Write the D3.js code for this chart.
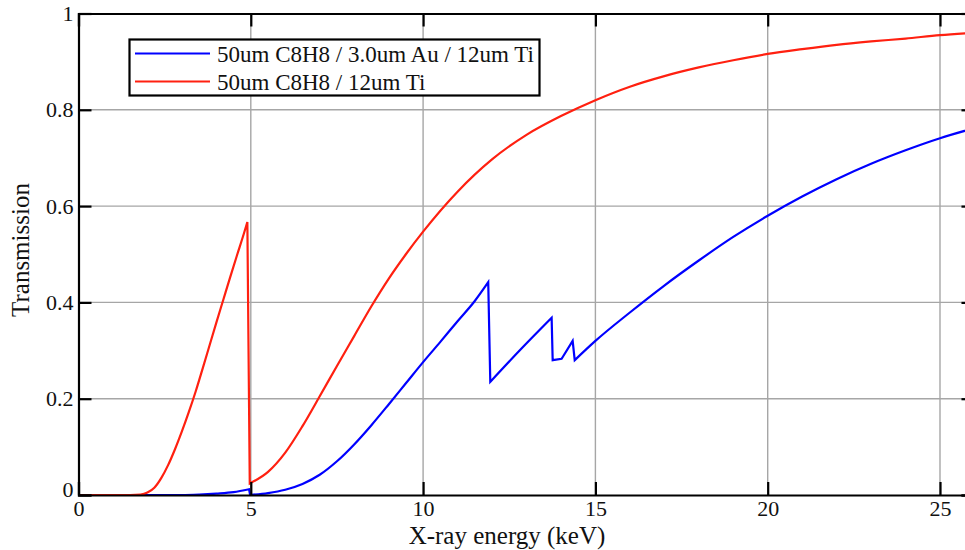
<!DOCTYPE html>
<html>
<head>
<meta charset="utf-8">
<script src="https://cdn.jsdelivr.net/npm/d3@7/dist/d3.min.js"></script>
<style>
html,body{margin:0;padding:0;background:#fff;}
svg{display:block;}
text{font-family:"Liberation Serif","Times New Roman",serif;fill:#111;}
</style>
</head>
<body>
<svg id="chart" width="965" height="550"></svg>
<script>
// ---- data ----
const xTicks = [0, 5, 10, 15, 20, 25];
const yTicks = [0, 0.2, 0.4, 0.6, 0.8, 1];
const yTickLabels = ["0", "0.2", "0.4", "0.6", "0.8", "1"];
const seriesNames = ["50um C8H8 / 3.0um Au / 12um Ti", "50um C8H8 / 12um Ti"];
const seriesColors = ["#0000ff", "#ff2010"];

// blue: 50um C8H8 / 3.0um Au / 12um Ti
const blueE = [0, 1, 2, 3, 3.5, 4.0, 4.5, 4.95,
  4.98, 5.5, 6.0, 6.5, 7.0, 7.5, 8.0, 8.5, 9.0, 9.5, 10.0, 10.5, 11.0, 11.5, 11.89,
  11.95, 12.8, 13.73,
  13.76, 14.02,
  14.03, 14.34,
  14.40, 15.0, 16.0, 17.0, 18.0, 19.0, 20.0, 21.0, 22.0, 23.0, 24.0, 25.0, 26.0];
const blueT = [0, 0, 0, 0, 0.001, 0.003, 0.006, 0.012,
  0.0, 0.004, 0.011, 0.023, 0.042, 0.070, 0.105, 0.145, 0.188, 0.232, 0.276, 0.318, 0.361, 0.403, 0.442,
  0.235, 0.300, 0.368,
  0.280, 0.283,
  0.284, 0.320,
  0.280, 0.320, 0.379, 0.435, 0.487, 0.536, 0.580, 0.620, 0.656, 0.688, 0.716, 0.741, 0.762];
const blueEdges = [4.966, 11.92, 13.745, 14.025, 14.37];

// red: 50um C8H8 / 12um Ti
const redE = [0, 1, 1.5, 1.8, 2.0, 2.2, 2.4, 2.6, 2.8, 3.0, 3.2, 3.4, 3.6, 3.8, 4.0, 4.2, 4.4, 4.6, 4.8, 4.9,
  4.97, 5.5, 6.0, 6.5, 7.0, 7.5, 8.0, 8.5, 9.0, 9.5, 10.0, 11.0, 12.0, 13.0, 14.0, 15.0, 16.0, 17.0, 18.0, 19.0, 20.0, 21.0, 22.0, 23.0, 24.0, 25.0, 26.0];
const redT = [0, 0, 0, 0.001, 0.005, 0.015, 0.035, 0.062, 0.095, 0.132, 0.172, 0.215, 0.262, 0.310, 0.358, 0.405, 0.452, 0.498, 0.543, 0.567,
  0.024, 0.048, 0.088, 0.143, 0.205, 0.268, 0.330, 0.392, 0.449, 0.500, 0.547, 0.630, 0.697, 0.748, 0.787, 0.820, 0.848, 0.870, 0.888, 0.903, 0.916, 0.926, 0.935, 0.942, 0.948, 0.955, 0.960];
const redEdges = [4.93];

// ---- layout ----
const svg = d3.select("#chart");
const m = {left: 78.5, top: 13.5, bottom: 495};
const xMax = 26;
const x = d3.scaleLinear().domain([0, xMax]).range([m.left, m.left + xMax * 34.46]);
const y = d3.scaleLinear().domain([0, 1]).range([m.bottom, m.top]);
const xR = x(xMax);

// grid
const grid = svg.append("g");
grid.selectAll("line.gx").data(xTicks.filter(d => d > 0)).join("line")
  .attr("x1", d => x(d)).attr("x2", d => x(d)).attr("y1", y(0)).attr("y2", y(1))
  .attr("stroke", "#a6a6a6").attr("stroke-width", 1.4);
grid.selectAll("line.gy").data(yTicks.filter(d => d > 0 && d < 1)).join("line")
  .attr("x1", m.left).attr("x2", xR).attr("y1", d => y(d)).attr("y2", d => y(d))
  .attr("stroke", "#a6a6a6").attr("stroke-width", 1.4);

// curves
function segments(E, T, edges) {
  const pts = E.map((e, i) => [e, T[i]]);
  const segs = [];
  const bounds = [-Infinity, ...edges, Infinity];
  for (let k = 0; k < bounds.length - 1; k++) {
    const s = pts.filter(p => p[0] >= bounds[k] && p[0] < bounds[k + 1]);
    if (s.length) segs.push(s);
  }
  return segs;
}
const line = d3.line().x(d => x(d[0])).y(d => y(d[1])).curve(d3.curveMonotoneX);
function pathFor(E, T, edges) {
  return segments(E, T, edges).map((s, i) => {
    const p = line(s);
    return i > 0 ? "L" + p.slice(1) : p;
  }).join("");
}
svg.append("defs").append("clipPath").attr("id", "clip")
  .append("rect").attr("x", m.left).attr("y", m.top).attr("width", xR - m.left).attr("height", m.bottom - m.top);
const curves = svg.append("g").attr("clip-path", "url(#clip)");
curves.append("path").attr("d", pathFor(blueE, blueT, blueEdges))
  .attr("fill", "none").attr("stroke", seriesColors[0]).attr("stroke-width", 2.2).attr("stroke-linejoin", "miter");
curves.append("path").attr("d", pathFor(redE, redT, redEdges))
  .attr("fill", "none").attr("stroke", seriesColors[1]).attr("stroke-width", 2.2).attr("stroke-linejoin", "miter");

// axes
const xAxisB = d3.axisBottom(x).tickValues(xTicks).tickSize(-13).tickPadding(5).tickFormat(d3.format("d"));
const gxB = svg.append("g").attr("transform", `translate(0,${m.bottom})`).call(xAxisB);
const xAxisT = d3.axisTop(x).tickValues(xTicks).tickSize(-13).tickFormat("");
const gxT = svg.append("g").attr("transform", `translate(0,${m.top})`).call(xAxisT);
const yAxisL = d3.axisLeft(y).tickValues(yTicks).tickSize(-13).tickPadding(5).tickFormat((d, i) => yTickLabels[i]);
const gyL = svg.append("g").attr("transform", `translate(${m.left},0)`).call(yAxisL);
const yAxisR = d3.axisRight(y).tickValues(yTicks).tickSize(-13).tickFormat("");
const gyR = svg.append("g").attr("transform", `translate(${xR},0)`).call(yAxisR);

[gxB, gxT, gyL, gyR].forEach(g => {
  g.attr("font-family", null);
  g.select(".domain").attr("stroke", "#000").attr("stroke-width", 2.2);
  g.selectAll(".tick line").attr("stroke", "#000").attr("stroke-width", 2.2);
  g.selectAll(".tick text").attr("font-size", 22).attr("fill", "#111");
});
gxB.selectAll(".tick text").attr("dy", "0.71em");
gyL.selectAll(".tick text").attr("dy", (d) => d === 0 ? "0.05em" : "0.32em");

// axis titles
svg.append("text").attr("x", 507).attr("y", 544).attr("text-anchor", "middle")
  .attr("font-size", 25).text("X-ray energy (keV)");
svg.append("text").attr("transform", "translate(29,250) rotate(-90)").attr("text-anchor", "middle")
  .attr("font-size", 25).text("Transmission");

// legend
const lg = svg.append("g");
lg.append("rect").attr("x", 129.5).attr("y", 39.5).attr("width", 410).attr("height", 56)
  .attr("fill", "#fff").attr("stroke", "#000").attr("stroke-width", 2.2);
seriesNames.forEach((name, i) => {
  const yy = 53.5 + i * 28;
  lg.append("line").attr("x1", 135).attr("x2", 210).attr("y1", yy).attr("y2", yy)
    .attr("stroke", seriesColors[i]).attr("stroke-width", 2.2);
  lg.append("text").attr("x", 217).attr("y", yy + 8).attr("font-size", 23).text(name);
});
</script>
</body>
</html>
